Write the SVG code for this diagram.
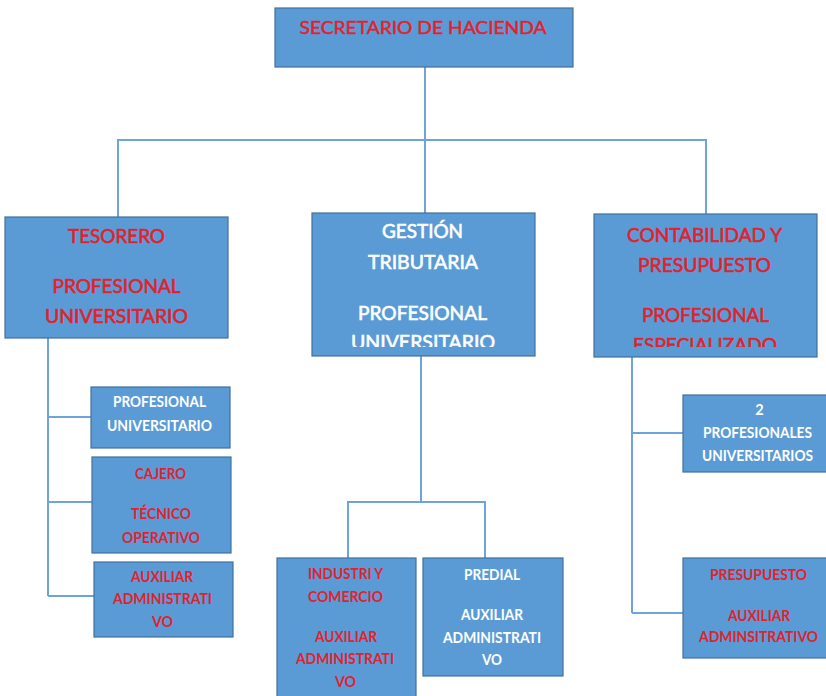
<svg xmlns="http://www.w3.org/2000/svg" width="826" height="696" viewBox="0 0 826 696">
<style>
.box{fill:#5b9bd5;stroke:#41719c;stroke-width:1.2}
.t{font-family:Lato,"Liberation Sans",sans-serif;text-anchor:middle}
.big{font-size:19px;stroke-width:0.6}
.top{font-size:18px;stroke-width:0.5}
.sm{font-size:14.5px;font-weight:bold}
.r{fill:#e0222f}
.big.r,.top.r{stroke:#e0222f}
.w{fill:#ffffff}
.big.w{stroke:#ffffff}
.ln{fill:none;stroke:#6fa3dc;stroke-width:2}
</style>
<defs>
<clipPath id="clipMid"><rect x="312" y="213" width="224" height="134"/></clipPath>
<clipPath id="clipRight"><rect x="594" y="213" width="224" height="134"/></clipPath>
</defs>
<rect width="826" height="696" fill="#ffffff"/>
<g id="connectors">
<path class="ln" d="M425 67 V213"/>
<path class="ln" d="M118 217 V140 H706 V214"/>
<path class="ln" d="M48 338 V596 M48 417 H91 M48 502 H92 M48 596 H94"/>
<path class="ln" d="M421 356 V502 M348 558 V502 H485 V558"/>
<path class="ln" d="M632 357 V613 M632 433 H683 M632 613 H683"/>
</g>
<g id="secretario">
<rect class="box" x="275" y="8" width="298" height="59"/>
<text class="t top r" x="423" y="34" textLength="247" lengthAdjust="spacingAndGlyphs">SECRETARIO DE HACIENDA</text>
</g>
<g id="tesorero">
<rect class="box" x="5" y="217" width="223" height="121"/>
<text class="t big r" x="116.5" y="243" textLength="97" lengthAdjust="spacingAndGlyphs">TESORERO</text>
<text class="t big r" x="116.5" y="293" textLength="128" lengthAdjust="spacingAndGlyphs">PROFESIONAL</text>
<text class="t big r" x="116.5" y="323" textLength="143" lengthAdjust="spacingAndGlyphs">UNIVERSITARIO</text>
</g>
<g id="gestion">
<rect class="box" x="312" y="213" width="223" height="143"/>
<g clip-path="url(#clipMid)">
<text class="t big w" x="422.5" y="238" textLength="81" lengthAdjust="spacingAndGlyphs">GESTIÓN</text>
<text class="t big w" x="423" y="269" textLength="110" lengthAdjust="spacingAndGlyphs">TRIBUTARIA</text>
<text class="t big w" x="422.5" y="320" textLength="129" lengthAdjust="spacingAndGlyphs">PROFESIONAL</text>
<text class="t big w" x="423" y="348.5" textLength="144" lengthAdjust="spacingAndGlyphs">UNIVERSITARIO</text>
</g>
</g>
<g id="contabilidad">
<rect class="box" x="594" y="214" width="223" height="143"/>
<g clip-path="url(#clipRight)">
<text class="t big r" x="704.5" y="241.5" textLength="155" lengthAdjust="spacingAndGlyphs">CONTABILIDAD Y</text>
<text class="t big r" x="704.5" y="271.5" textLength="133" lengthAdjust="spacingAndGlyphs">PRESUPUESTO</text>
<text class="t big r" x="705.5" y="321.5" textLength="127" lengthAdjust="spacingAndGlyphs">PROFESIONAL</text>
<text class="t big r" x="705" y="351.5" textLength="144" lengthAdjust="spacingAndGlyphs">ESPECIALIZADO</text>
</g>
</g>
<g id="tes-profesional">
<rect class="box" x="91" y="387" width="139" height="61"/>
<text class="t sm w" x="159.5" y="407" textLength="93" lengthAdjust="spacingAndGlyphs">PROFESIONAL</text>
<text class="t sm w" x="159.5" y="431" textLength="105" lengthAdjust="spacingAndGlyphs">UNIVERSITARIO</text>
</g>
<g id="cajero">
<rect class="box" x="92" y="457" width="139" height="96"/>
<text class="t sm r" x="160.5" y="479" textLength="51" lengthAdjust="spacingAndGlyphs">CAJERO</text>
<text class="t sm r" x="161" y="519" textLength="60" lengthAdjust="spacingAndGlyphs">TÉCNICO</text>
<text class="t sm r" x="161" y="543" textLength="78" lengthAdjust="spacingAndGlyphs">OPERATIVO</text>
</g>
<g id="tes-auxiliar">
<rect class="box" x="94" y="562" width="139" height="75"/>
<text class="t sm r" x="162" y="582" textLength="62" lengthAdjust="spacingAndGlyphs">AUXILIAR</text>
<text class="t sm r" x="162.5" y="604" textLength="99" lengthAdjust="spacingAndGlyphs">ADMINISTRATI</text>
<text class="t sm r" x="162.5" y="627" textLength="21" lengthAdjust="spacingAndGlyphs">VO</text>
</g>
<g id="industria">
<rect class="box" x="277" y="558" width="139" height="150"/>
<text class="t sm r" x="345.5" y="579" textLength="75" lengthAdjust="spacingAndGlyphs">INDUSTRI Y</text>
<text class="t sm r" x="345.5" y="602" textLength="75" lengthAdjust="spacingAndGlyphs">COMERCIO</text>
<text class="t sm r" x="346" y="642" textLength="62" lengthAdjust="spacingAndGlyphs">AUXILIAR</text>
<text class="t sm r" x="345" y="664" textLength="98" lengthAdjust="spacingAndGlyphs">ADMINISTRATI</text>
<text class="t sm r" x="345.5" y="687" textLength="21" lengthAdjust="spacingAndGlyphs">VO</text>
</g>
<g id="predial">
<rect class="box" x="423" y="558" width="140" height="118"/>
<text class="t sm w" x="492" y="580" textLength="56" lengthAdjust="spacingAndGlyphs">PREDIAL</text>
<text class="t sm w" x="492" y="620" textLength="62" lengthAdjust="spacingAndGlyphs">AUXILIAR</text>
<text class="t sm w" x="492" y="642.5" textLength="98" lengthAdjust="spacingAndGlyphs">ADMINISTRATI</text>
<text class="t sm w" x="492" y="665" textLength="20" lengthAdjust="spacingAndGlyphs">VO</text>
</g>
<g id="profesionales">
<rect class="box" x="683" y="395" width="160" height="77"/>
<text class="t sm w" x="759.5" y="415">2</text>
<text class="t sm w" x="757.5" y="438" textLength="109" lengthAdjust="spacingAndGlyphs">PROFESIONALES</text>
<text class="t sm w" x="757.5" y="461" textLength="111" lengthAdjust="spacingAndGlyphs">UNIVERSITARIOS</text>
</g>
<g id="presupuesto">
<rect class="box" x="683" y="558" width="160" height="100"/>
<text class="t sm r" x="758.5" y="580" textLength="97" lengthAdjust="spacingAndGlyphs">PRESUPUESTO</text>
<text class="t sm r" x="759" y="621" textLength="62" lengthAdjust="spacingAndGlyphs">AUXILIAR</text>
<text class="t sm r" x="758.5" y="642" textLength="119" lengthAdjust="spacingAndGlyphs">ADMINSITRATIVO</text>
</g>
</svg>
